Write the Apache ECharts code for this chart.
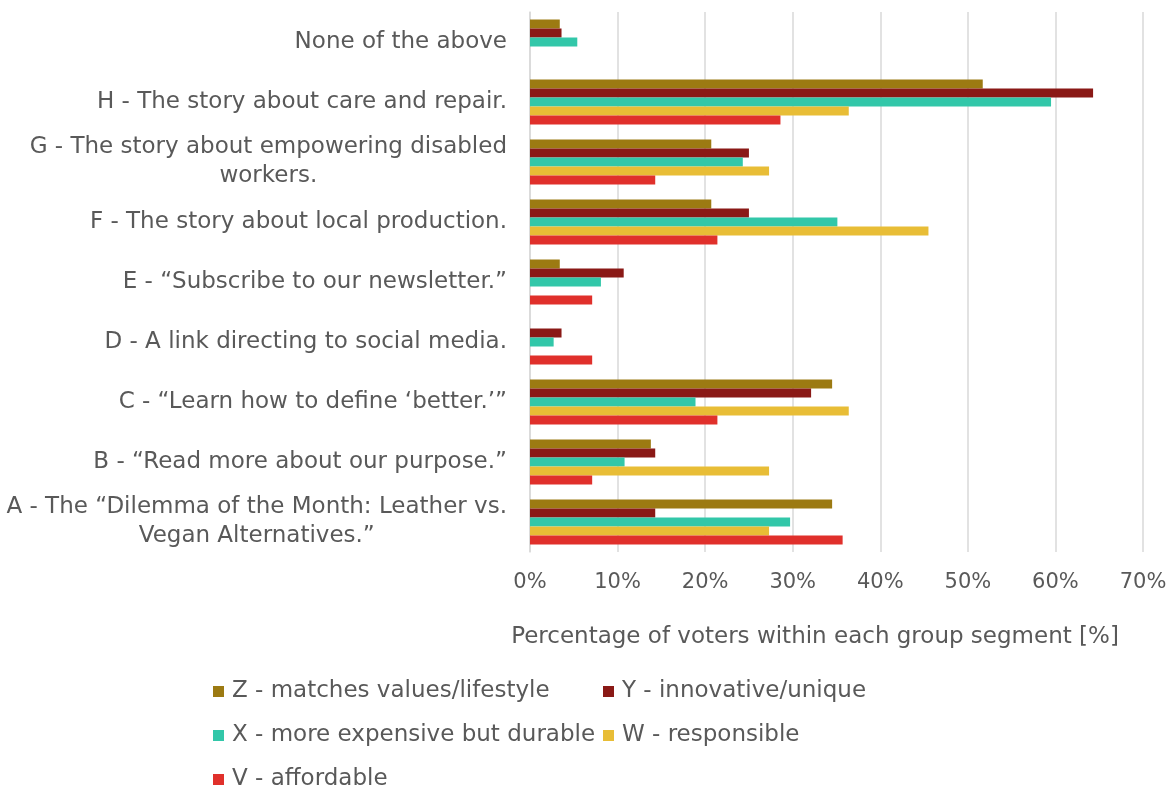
<!DOCTYPE html>
<html>
<head>
<meta charset="utf-8">
<script src="https://cdn.jsdelivr.net/npm/echarts@6/dist/echarts.min.js"></script>
<style>
  html, body { margin: 0; padding: 0; background: #fff; }
  #chart { width: 1173px; height: 789px; }
</style>
</head>
<body>
<div id="chart"></div>
<script>
// Story options, listed bottom to top as they appear on the category axis
const categories = [
  'A - The \u201cDilemma of the Month: Leather vs.\nVegan Alternatives.\u201d',
  'B - \u201cRead more about our purpose.\u201d',
  'C - \u201cLearn how to define \u2018better.\u2019\u201d',
  'D - A link directing to social media.',
  'E - \u201cSubscribe to our newsletter.\u201d',
  'F - The story about local production.',
  'G - The story about empowering disabled\nworkers.',
  'H - The story about care and repair.',
  'None of the above'
];

const seriesNames = [
  'Z - matches values/lifestyle',
  'Y - innovative/unique',
  'X - more expensive but durable',
  'W - responsible',
  'V - affordable'
];

// Share of voters (%) per group segment, same order as categories
const zValues = [34.5, 13.8, 34.5, null, 3.4, 20.7, 20.7, 51.7, 3.4];
const yValues = [14.3, 14.3, 32.1, 3.6, 10.7, 25.0, 25.0, 64.3, 3.6];
const xValues = [29.7, 10.8, 18.9, 2.7, 8.1, 35.1, 24.3, 59.5, 5.4];
const wValues = [27.3, 27.3, 36.4, null, null, 45.5, 27.3, 36.4, null];
const vValues = [35.7, 7.1, 21.4, 7.1, 7.1, 21.4, 14.3, 28.6, null];

const axisTitle = 'Percentage of voters within each group segment [%]';

const colors = ['#9C7A12', '#8A1916', '#32C7A9', '#E8BD36', '#E0302B'];
const valueSets = [zValues, yValues, xValues, wValues, vValues];

const FONT = 'DejaVu Sans';
const TEXT = '#595959';

const chart = echarts.init(document.getElementById('chart'), null, { renderer: 'canvas' });

// Wrapped labels keep their lines centred on each other
function catLabel(value) {
  return value.split('\n').map(line => '{c|' + line + '}').join('\n');
}

const legendText = { fontFamily: FONT, fontSize: 23, color: TEXT, padding: [0, 0, 0, 3] };

// Two legend columns laid out as a grid
function legendColumn(names, left) {
  return {
    data: names,
    orient: 'vertical',
    left: left,
    top: 680,
    height: 120,
    padding: 0,
    itemWidth: 11,
    itemHeight: 11,
    itemGap: 21,
    icon: 'rect',
    textStyle: legendText
  };
}

chart.setOption({
  animation: false,
  backgroundColor: '#ffffff',
  title: [{
    text: axisTitle,
    left: 810,
    top: 621,
    textAlign: 'center',
    textStyle: { fontFamily: FONT, fontSize: 23, fontWeight: 'normal', color: TEXT }
  }],
  legend: [
    legendColumn([seriesNames[0], seriesNames[2], seriesNames[4]], 213),
    legendColumn([seriesNames[1], seriesNames[3]], 603)
  ],
  grid: { left: 530, right: 30, top: 12, height: 540, containLabel: false },
  xAxis: {
    type: 'value',
    min: 0,
    max: 70,
    interval: 10,
    axisLine: { show: false },
    axisTick: { show: false },
    splitLine: { lineStyle: { color: '#D9D9D9', width: 1.5 } },
    axisLabel: {
      formatter: '{value}%',
      fontFamily: FONT,
      fontSize: 21,
      color: TEXT,
      margin: 20
    }
  },
  yAxis: {
    type: 'category',
    data: categories,
    axisLine: { show: true, lineStyle: { color: '#D9D9D9', width: 1.5 } },
    axisTick: { show: false },
    axisLabel: {
      margin: 23,
      formatter: catLabel,
      rich: {
        c: { fontFamily: FONT, fontSize: 23, color: TEXT, align: 'center', lineHeight: 29 }
      }
    }
  },
  series: seriesNames.map((name, i) => ({
    name: name,
    type: 'bar',
    data: valueSets[i],
    barGap: '0%',
    barCategoryGap: '25%',
    itemStyle: { color: colors[i] }
  }))
});
</script>
</body>
</html>
